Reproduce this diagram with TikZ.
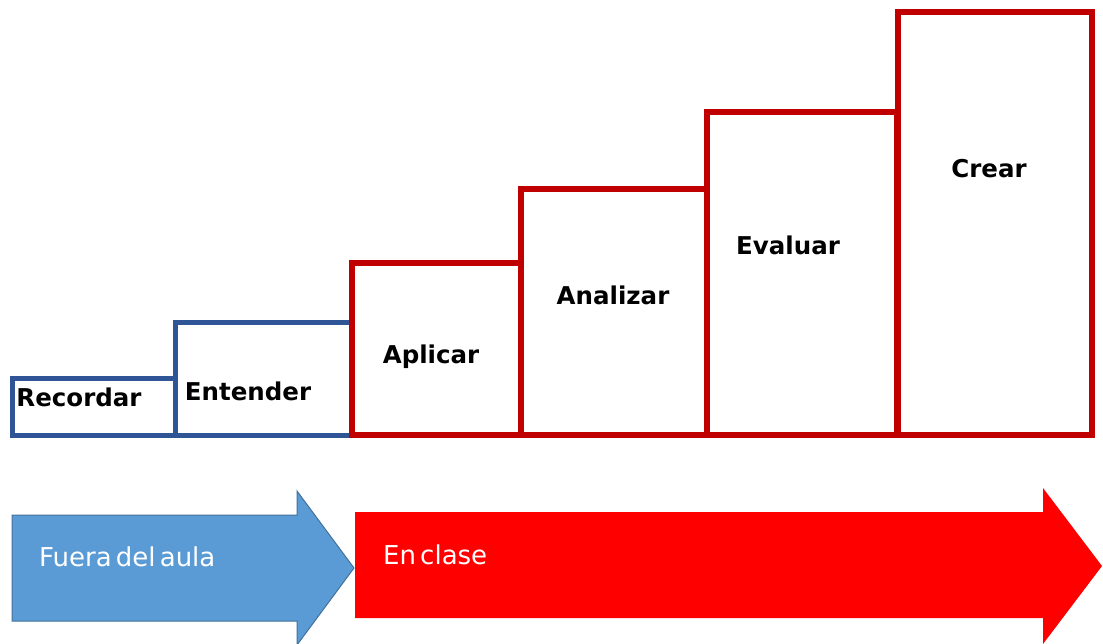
\documentclass[tikz,border=0pt]{standalone}
\usepackage{fontspec}
\setmainfont{DejaVu Sans}
\newfontfamily\arrowfont[WordSpace=0.5]{DejaVu Sans}
\usetikzlibrary{calc}
\definecolor{color_step_blue}{HTML}{2F5597}
\definecolor{color_step_red}{HTML}{C00000}
\definecolor{color_arrow_blue}{HTML}{5B9BD5}
\definecolor{color_arrow_blue_edge}{HTML}{41719C}
\definecolor{color_arrow_red}{HTML}{FF0000}
\tikzset{
    steplabel/.style={font=\fontsize{24.5}{28}\selectfont\bfseries, text=black, inner sep=0pt},
    arrowlabel/.style={font=\arrowfont\fontsize{26}{30}\selectfont, text=white, inner sep=0pt, anchor=west},
}

\begin{document}
\begin{tikzpicture}[x=1pt, y=-1pt]
            \useasboundingbox (0,0) rectangle (1103,643);
            % lower steps (blue)
            \draw[color_step_blue, line width=5pt] (12,378) rectangle (175,435);
            \draw[color_step_blue, line width=5pt] (175,322) rectangle (352,435);
            % upper steps (red)
            \draw[color_step_red, line width=6.5pt] (352,263) rectangle (521,435);
            \draw[color_step_red, line width=6.5pt] (521,189) rectangle (707,435);
            \draw[color_step_red, line width=6.5pt] (707,112) rectangle (897,435);
            \draw[color_step_red, line width=6.5pt] (898,12) rectangle (1092,435);
            % step labels
            \node[steplabel] (recordar) at (79,397) {Recordar};
            \node[steplabel] (entender) at (248,391) {Entender};
            \node[steplabel] (aplicar) at (431,357) {Aplicar};
            \node[steplabel] (analizar) at (613,295) {Analizar};
            \node[steplabel] (evaluar) at (788,245) {Evaluar};
            \node[steplabel] (crear) at (989,169) {Crear};
            % arrows
            \filldraw[fill=color_arrow_blue, draw=color_arrow_blue_edge, line width=1pt]
                (12,515) -- (297,515) -- (297,491) -- (354,568) -- (297,645) -- (297,621) -- (12,621) -- cycle;
            \fill[color_arrow_red]
                (355,512) -- (1043,512) -- (1043,488) -- (1102,566) -- (1043,644) -- (1043,618) -- (355,618) -- cycle;
            \node[arrowlabel] (fuera) at (39,557) {Fuera del aula};
            \node[arrowlabel] (enclase) at (383,555) {En clase};
\end{tikzpicture}
\end{document}
